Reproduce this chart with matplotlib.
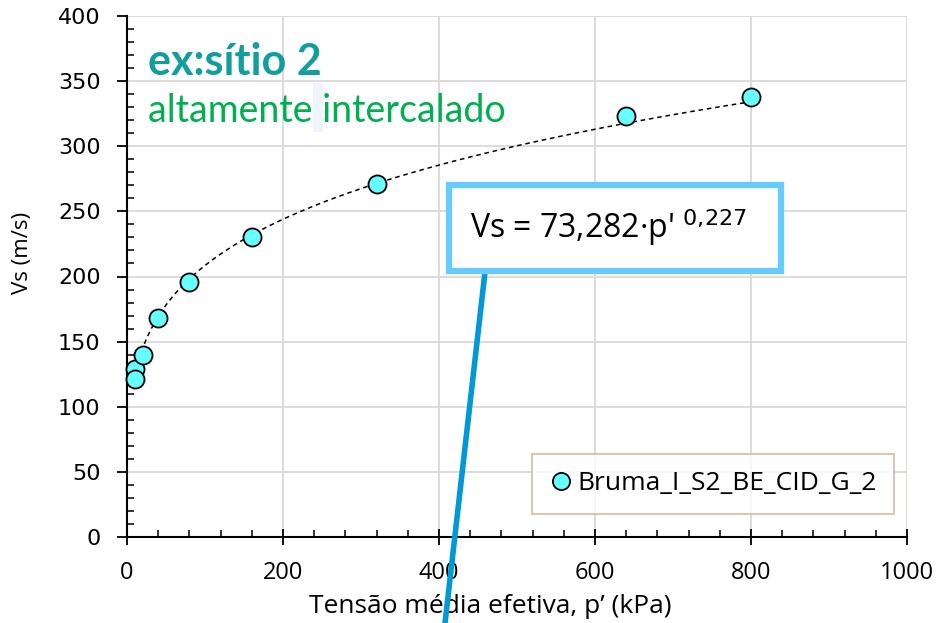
import numpy as np
import matplotlib
matplotlib.use("Agg")
import matplotlib.pyplot as plt
from matplotlib.patches import Rectangle
from matplotlib.ticker import MultipleLocator

# Data
p_kpa = [10, 10, 20, 40, 80, 160, 320, 640, 800]
vs_ms = [129, 121, 140, 168, 196, 230, 271, 323, 338]
series_label = "Bruma_I_S2_BE_CID_G_2"
fit_a = 73.282
fit_b = 0.227
fit_range = [10, 800]
x_ticks = [0, 200, 400, 600, 800, 1000]
y_ticks = [0, 50, 100, 150, 200, 250, 300, 350, 400]

W, H = 937, 623
fig = plt.figure(figsize=(W / 100, H / 100), dpi=100)
ax = fig.add_axes([127/W, 86/H, 780/W, 521/H])
ax.set_xlim(0, 1000)
ax.set_ylim(0, 400)
ax.set_xticks(x_ticks)
ax.set_yticks(y_ticks)
ax.xaxis.set_minor_locator(MultipleLocator(40))
ax.yaxis.set_minor_locator(MultipleLocator(10))
ax.grid(True, which="major", color="#d9d9d9", linewidth=1.3)
ax.set_axisbelow(True)
for s in ["top", "right"]:
    ax.spines[s].set_visible(False)
for s in ["left", "bottom"]:
    ax.spines[s].set_color("black")
    ax.spines[s].set_linewidth(1.5)
ax.tick_params(axis="x", which="major", direction="inout", length=12, width=1.3, labelsize=17, pad=11)
ax.tick_params(axis="y", which="major", direction="out", length=7, width=1.3, labelsize=16, pad=12)
ax.tick_params(which="minor", direction="in", length=5, width=1.1)
for lbl in ax.get_xticklabels():
    lbl.set_fontfamily("Open Sans")
for lbl in ax.get_yticklabels():
    lbl.set_fontfamily("DejaVu Sans")

# axis titles
fig.text(490/W, 1 - 613/H, "Tensão média efetiva, p’ (kPa)", fontsize=19, family="Open Sans",
         ha="center", va="baseline")
fig.text(23/W, 1 - 253/H, "Vs (m/s)", fontsize=16, family="Open Sans", rotation=90,
         ha="center", va="center")

# trendline from fitted equation
xf = np.linspace(fit_range[0], fit_range[1], 300)
ax.plot(xf, fit_a * xf ** fit_b, linestyle=(0, (3, 2.5)), color="black", linewidth=1.1, zorder=3)

ax.plot(p_kpa, vs_ms, linestyle="none", marker="o", markersize=13,
        markerfacecolor="#66FFFF", markeredgecolor="black", markeredgewidth=1.3,
        label=series_label, zorder=4, clip_on=False)

leg = ax.legend(loc="center", bbox_to_anchor=(713/W, 1 - 484/H), bbox_transform=fig.transFigure,
                prop={"family": "Open Sans", "size": 19}, frameon=True, fancybox=False,
                handletextpad=0.2, borderpad=0.65, handlelength=0.9, markerscale=0.95)
leg.get_frame().set_edgecolor("#c8bf9b")
leg.get_frame().set_linewidth(1.5)

# annotations
fig.text(148/W, 1 - 75/H, "ex:sítio 2", fontsize=31, fontweight="bold", color="#139e9e",
         family="Lato", va="baseline", ha="left")
fig.patches.append(Rectangle((313/W, 1 - 132/H), 10/W, 49/H, transform=fig.transFigure,
                             facecolor="#eef4fc", edgecolor="none", zorder=0))
fig.text(148/W, 1 - 122/H, "altamente intercalado", fontsize=27, color="#00b050",
         family="Lato", va="baseline", ha="left")

# callout line
fig.add_artist(plt.Line2D([485/W, 445/W], [1 - 272/H, 0], transform=fig.transFigure,
                          color="#0099d6", linewidth=4, zorder=5))
fig.patches.append(Rectangle((449/W, 1 - 271/H), 332/W, 86/H, transform=fig.transFigure,
                             facecolor="white", edgecolor="#66ccff", linewidth=4.5, zorder=6))
fig.text(470/W, 1 - 238/H, r"Vs = 73,282·p' $^{0{,}227}$", fontsize=23, family="Open Sans",
         ha="left", va="baseline", zorder=7)

fig.savefig("out.png", dpi=100)
